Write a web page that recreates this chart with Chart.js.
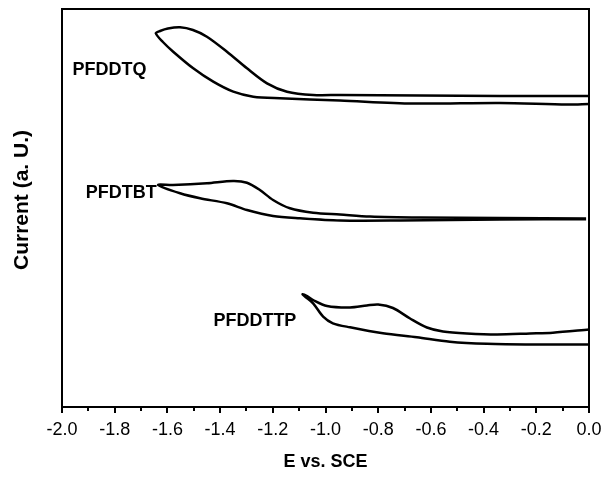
<!DOCTYPE html>
<html>
<head>
<meta charset="utf-8">
<script src="https://cdn.jsdelivr.net/npm/chart.js@4/dist/chart.umd.min.js"></script>
<style>
  html, body { margin: 0; padding: 0; background: #fff; }
  #wrap { width: 603px; height: 477px; position: relative; }
</style>
</head>
<body>
<div id="wrap"><canvas id="cv"></canvas></div>
<script>
// Cyclic voltammograms (reduction scans), current in arbitrary units, curves offset vertically
const pfddtqE = [0.0, -0.338, -0.641, -0.945, -1.047, -1.146, -1.222, -1.298, -1.374, -1.450, -1.503, -1.552, -1.598, -1.628, -1.644,
                 -1.617, -1.578, -1.502, -1.426, -1.350, -1.274, -1.173, -0.945, -0.668, -0.338, -0.083, 0.0];
const pfddtqI = [311, 311, 311.5, 312, 312, 315.3, 323.7, 338.7, 355.3, 370.3, 377, 379.7, 378.5, 376, 373.7,
                 365, 355.3, 338.7, 325.3, 315.3, 310.3, 308.7, 306.5, 303.5, 304, 302.5, 303];

const pfdtbtE = [-0.011, -0.338, -0.641, -0.831, -0.945, -1.047, -1.135, -1.199, -1.249, -1.298, -1.351, -1.450, -1.579, -1.635,
                 -1.552, -1.476, -1.374, -1.298, -1.199, -1.097, -0.945, -0.717, -0.338, -0.011];
const pfdtbtI = [188.5, 189, 189.5, 190.5, 192.5, 194.3, 198.7, 207, 217, 224.3, 226, 223.7, 222, 222,
                 213.7, 208.7, 203.7, 197, 191, 188.7, 186.5, 186.5, 187.5, 187.7];

const pfddttpE = [0.0, -0.137, -0.224, -0.349, -0.463, -0.554, -0.615, -0.679, -0.744, -0.800, -0.843, -0.907, -0.994, -1.047, -1.070, -1.087,
                  -1.078, -1.047, -1.009, -0.972, -0.907, -0.782, -0.653, -0.528, -0.387, -0.213, 0.0];
const pfddttpI = [77.5, 74.3, 73.5, 72.5, 73.5, 75.5, 79.5, 88.5, 99, 102.5, 101.5, 99.5, 101, 107, 111, 112.7,
                  110.5, 103.7, 90.3, 83.7, 79.7, 73.7, 69.7, 65.3, 63.2, 62.5, 62.5];

const seriesNames = ['PFDDTQ', 'PFDTBT', 'PFDDTTP'];
// where each polymer name is written, in axis units (E, current)
const nameE = [-1.820, -1.775, -1.268];
const nameI = [337, 214, 86];

const xMajorTicks = [-2.0, -1.8, -1.6, -1.4, -1.2, -1.0, -0.8, -0.6, -0.4, -0.2, 0.0];
const xMinorTicks = [-1.9, -1.7, -1.5, -1.3, -1.1, -0.9, -0.7, -0.5, -0.3, -0.1];

const FONT = "'Liberation Sans', Arial, sans-serif";
const Y_TITLE = 'Current (a. U.)';

function pts(xs, ys) { return xs.map((x, i) => ({ x: x, y: ys[i] })); }

function curve(label, xs, ys) {
  return {
    label: label,
    data: pts(xs, ys),
    showLine: true,
    borderColor: '#000',
    borderWidth: 2.5,
    pointRadius: 0,
    tension: 0.3,
    fill: false
  };
}

const decorations = {
  id: 'decorations',
  afterDraw(chart) {
    const ctx = chart.ctx;
    const a = chart.chartArea;
    const xs = chart.scales.x, ys = chart.scales.y;
    ctx.save();
    // minor ticks below the x axis
    ctx.strokeStyle = '#000';
    ctx.lineWidth = 2;
    xMinorTicks.forEach(v => {
      const px = Math.round(xs.getPixelForValue(v));
      ctx.beginPath();
      ctx.moveTo(px, a.bottom);
      ctx.lineTo(px, a.bottom + 4);
      ctx.stroke();
    });
    // frame
    ctx.lineWidth = 2;
    ctx.strokeRect(a.left, a.top, a.right - a.left, a.bottom - a.top);
    // polymer names
    ctx.fillStyle = '#000';
    ctx.font = 'bold 18px ' + FONT;
    ctx.textAlign = 'center';
    ctx.textBaseline = 'middle';
    seriesNames.forEach((n, i) => {
      ctx.fillText(n, xs.getPixelForValue(nameE[i]), ys.getPixelForValue(nameI[i]));
    });
    // y axis title
    ctx.font = 'bold 21px ' + FONT;
    ctx.translate(22, (a.top + a.bottom) / 2 - 8);
    ctx.rotate(-Math.PI / 2);
    ctx.fillText(Y_TITLE, 0, 0);
    ctx.restore();
  }
};

new Chart(document.getElementById('cv'), {
  type: 'scatter',
  data: {
    datasets: [
      curve(seriesNames[0], pfddtqE, pfddtqI),
      curve(seriesNames[1], pfdtbtE, pfdtbtI),
      curve(seriesNames[2], pfddttpE, pfddttpI)
    ]
  },
  options: {
    responsive: true,
    maintainAspectRatio: false,
    animation: false,
    layout: { padding: { top: 9, right: 14, left: 0, bottom: 0 } },
    plugins: { legend: { display: false }, tooltip: { enabled: false } },
    scales: {
      x: {
        type: 'linear',
        min: -2.0,
        max: 0.0,
        afterBuildTicks(scale) { scale.ticks = xMajorTicks.map(v => ({ value: v })); },
        afterFit(scale) { scale.height = 70; scale.paddingLeft = 0; scale.paddingRight = 0; },
        border: { display: false },
        grid: { display: true, drawOnChartArea: false, drawTicks: true, tickLength: 6, color: '#000', lineWidth: 2 },
        ticks: {
          color: '#000',
          padding: 6,
          maxRotation: 0,
          autoSkip: false,
          font: { family: FONT, size: 18 },
          callback: v => (Math.abs(v) < 1e-9 ? '0.0' : Number(v).toFixed(1))
        },
        title: {
          display: true,
          text: 'E vs. SCE',
          color: '#000',
          font: { family: FONT, size: 18, weight: 'bold' },
          padding: { top: 0, bottom: 4 }
        }
      },
      y: {
        type: 'linear',
        min: 0,
        max: 398,
        afterFit(scale) { scale.width = 62; },
        border: { display: false },
        grid: { display: false },
        ticks: { display: false },
        title: { display: false }
      }
    }
  },
  plugins: [decorations]
});
</script>
</body>
</html>
